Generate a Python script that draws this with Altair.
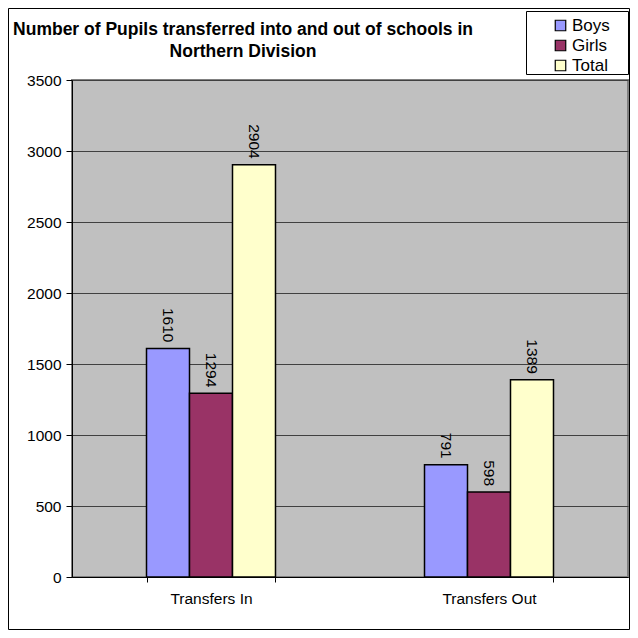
import altair as alt
import pandas as pd

title_lines = ["Number of Pupils transferred into and out of schools in", "Northern Division"]
categories = ["Transfers In", "Transfers Out"]
series = ["Boys", "Girls", "Total"]
boys = [1610, 791]
girls = [1294, 598]
total = [2904, 1389]
colors = ["#9999FF", "#993366", "#FFFFCC"]
y_ticks = [0, 500, 1000, 1500, 2000, 2500, 3000, 3500]

rows = []
for s, vals in zip(series, [boys, girls, total]):
    for c, v in zip(categories, vals):
        rows.append({"category": c, "series": s, "value": v})
df = pd.DataFrame(rows)

FONT = "Liberation Sans"
W, H = 556, 497

x_enc = alt.X(
    "category:N",
    sort=categories,
    scale=alt.Scale(paddingInner=0.536, paddingOuter=0.268),
    axis=alt.Axis(
        title=None, labelAngle=0, tickBand="extent", tickSize=5, labelPadding=9,
        labelFontSize=15.5, labelFont=FONT, labelColor="black",
        domainColor="black", tickColor="black", grid=False,
    ),
)
xo = alt.XOffset("series:N", sort=series, scale=alt.Scale(domain=series))
y_enc = alt.Y(
    "value:Q",
    scale=alt.Scale(domain=[0, 3500], nice=False),
    axis=alt.Axis(
        title=None, values=y_ticks, format="d", tickSize=6, labelPadding=5,
        labelFontSize=15.5, labelFont=FONT, labelColor="black",
        domainColor="black", tickColor="black", grid=True,
        gridColor="#404040", gridWidth=1,
    ),
)

base = alt.Chart(df)
bars = base.mark_bar(stroke="black", strokeWidth=1.5).encode(
    x=x_enc,
    xOffset=xo,
    y=y_enc,
    fill=alt.Fill(
        "series:N",
        scale=alt.Scale(domain=series, range=colors),
        legend=alt.Legend(
            title=None, orient="none", legendX=480, legendY=-63,
            symbolType="square", symbolSize=110, symbolStrokeColor="black",
            symbolStrokeWidth=1.2, symbolOpacity=1, labelFontSize=17, labelFont=FONT,
            labelColor="black", labelOffset=3, rowPadding=2, padding=0,
        ),
    ),
)
labels = base.mark_text(
    angle=90, align="right", baseline="middle", dx=-6, fontSize=15.5, font=FONT, color="black"
).encode(
    x=alt.X("category:N", sort=categories),
    xOffset=alt.XOffset("series:N", sort=series),
    y=alt.Y("value:Q"),
    text=alt.Text("value:Q", format="d"),
)

one = pd.DataFrame({"k": [0]})
border = alt.Chart(one).mark_rect(fill="transparent", stroke="black", strokeWidth=1).encode(
    x=alt.value(-63.5), x2=alt.value(557.5), y=alt.value(-71.5), y2=alt.value(549.5)
)
legend_box = alt.Chart(one).mark_rect(fill="white", stroke="black", strokeWidth=1).encode(
    x=alt.value(454.5), x2=alt.value(556.5), y=alt.value(-68.5), y2=alt.value(-5.5)
)
title = alt.Chart(one).mark_text(
    text=title_lines, font=FONT, fontSize=17.5, fontWeight="bold", align="center",
    baseline="alphabetic", lineHeight=22, color="black",
).encode(x=alt.value(171), y=alt.value(-45))

chart = (
    alt.layer(border, legend_box, bars, labels, title)
    .properties(
        width=W, height=H,
        padding={"left": 64, "top": 72, "right": 2, "bottom": 53},
        autosize=alt.AutoSizeParams(type="none"),
    )
    .configure(background="white")
    .configure_view(fill="#C0C0C0", stroke="#808080", strokeWidth=2)
)

chart.save("out.html", embed_options={"renderer": "svg", "actions": False})
